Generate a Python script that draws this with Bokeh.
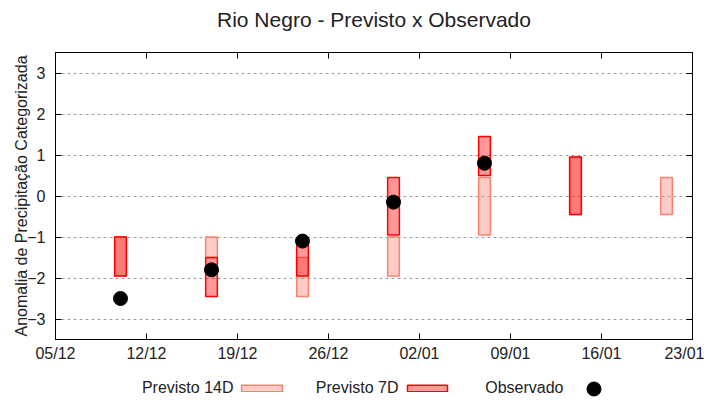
import numpy as np
import pandas as pd
from bokeh.plotting import figure
from bokeh.layouts import column
from bokeh.models import (Legend, LegendItem, FixedTicker, DatetimeTickFormatter,
                          LinearAxis, Range1d, ColumnDataSource, Label)
from bokeh.embed import file_html
from bokeh.resources import INLINE

# ---- data ----
dates = ["2023-12-10", "2023-12-17", "2023-12-24", "2023-12-31",
         "2024-01-07", "2024-01-14", "2024-01-21"]
prev14_top = [-1.0, -1.0, -1.5, -1.0, 0.45, 0.95, 0.45]
prev14_bottom = [-1.95, -1.5, -2.45, -1.95, -0.95, -0.45, -0.45]
prev7_top = [-1.0, -1.5, -1.2, 0.45, 1.45, 0.95, np.nan]
prev7_bottom = [-1.95, -2.45, -1.95, -0.95, 0.5, -0.45, np.nan]
observed = [-2.5, -1.8, -1.1, -0.15, 0.8, np.nan, np.nan]

x_tick_dates = ["2023-12-05", "2023-12-12", "2023-12-19", "2023-12-26",
                "2024-01-02", "2024-01-09", "2024-01-16", "2024-01-23"]
y_ticks = [-3, -2, -1, 0, 1, 2, 3]
y_limits = (-3.5, 3.5)
legend_labels = ["Previsto 14D", "Previsto 7D", "Observado"]
title_text = "Rio Negro - Previsto x Observado"

FONT = "Liberation Sans"
TXT = "#222222"

dt = pd.to_datetime(dates)
half = pd.Timedelta(hours=0.45 * 24)
src = ColumnDataSource(dict(
    x=dt, left=dt - half, right=dt + half,
    t14=prev14_top, b14=prev14_bottom,
    t7=prev7_top, b7=prev7_bottom, obs=observed,
))

xt = pd.to_datetime(x_tick_dates)
x_ticks_ms = [(t - pd.Timestamp("1970-01-01")) / pd.Timedelta(milliseconds=1) for t in xt]

W = 704
BL, BR = 55, 12          # left / right borders (pixels)
FX0, FX1 = BL, W - BR    # frame span in pixels

# ---- title strip ----
TH = 36
tf = figure(width=W, height=TH, x_range=Range1d(FX0, FX1), y_range=Range1d(0, TH),
            output_backend="svg", toolbar_location=None,
            x_axis_location=None, y_axis_location=None,
            min_border_left=BL, min_border_right=BR, min_border_top=0,
            min_border_bottom=0, outline_line_color=None)
tf.grid.visible = False
tf.add_layout(Label(x=(FX0 + FX1) / 2, y=17, text=title_text, text_align="center",
                    text_baseline="middle", text_font=FONT, text_font_size="21px",
                    text_color=TXT))

# ---- main chart ----
p = figure(width=W, height=328, x_axis_type="datetime",
           x_range=Range1d(xt[0], xt[-1]), y_range=Range1d(*y_limits),
           output_backend="svg", toolbar_location=None,
           min_border_left=BL, min_border_right=BR,
           min_border_top=16, min_border_bottom=25)

p.outline_line_color = "black"
p.xgrid.visible = False
p.ygrid.ticker = FixedTicker(ticks=y_ticks)
p.ygrid.grid_line_color = "#a0a0a0"
p.ygrid.grid_line_dash = "3 3"
p.ygrid.grid_line_width = 1

fmt = DatetimeTickFormatter(days="%d/%m", months="%d/%m", years="%d/%m",
                            hours="%d/%m", minutes="%d/%m")
xa = p.xaxis[0]
xa.ticker = FixedTicker(ticks=x_ticks_ms)
xa.formatter = fmt
ya = p.yaxis[0]
ya.ticker = FixedTicker(ticks=y_ticks)
ya.axis_label = "Anomalia de Precipitação Categorizada"
ya.axis_label_text_font = FONT
ya.axis_label_text_font_size = "16px"
ya.axis_label_text_font_style = "normal"
ya.axis_label_standoff = -6
ya.axis_label_text_color = TXT

top_ax = LinearAxis(ticker=FixedTicker(ticks=x_ticks_ms),
                    major_label_overrides={t: "" for t in x_ticks_ms})
right_ax = LinearAxis(ticker=FixedTicker(ticks=y_ticks),
                      major_label_overrides={t: "" for t in y_ticks})
p.add_layout(top_ax, "above")
p.add_layout(right_ax, "right")

for ax in [xa, ya, top_ax, right_ax]:
    ax.major_tick_in = 6
    ax.major_tick_out = 0
    ax.minor_tick_line_color = None
    ax.axis_line_color = "black"
    ax.major_tick_line_color = "black"
    ax.major_label_text_font = FONT
    ax.major_label_text_font_size = "16px"
    ax.major_label_text_color = TXT
xa.major_label_standoff = 5
ya.major_label_standoff = 10
top_ax.major_label_standoff = 0
right_ax.major_label_standoff = 0

q14 = dict(fill_color="salmon", fill_alpha=0.4, line_color="salmon", line_width=1.5)
q7 = dict(fill_color="red", fill_alpha=0.4, line_color="red", line_width=1.5)
dot = dict(size=14, color="black")

p.quad(left="left", right="right", top="t14", bottom="b14", source=src, **q14)
p.quad(left="left", right="right", top="t7", bottom="b7", source=src, **q7)
p.scatter(x="x", y="obs", source=src, **dot)

# ---- legend strip below the chart (text first, then sample) ----
LH = 36
lg = figure(width=W, height=LH, x_range=Range1d(FX0, FX1), y_range=Range1d(0, LH),
            output_backend="svg", toolbar_location=None,
            x_axis_location=None, y_axis_location=None,
            min_border_left=BL, min_border_right=BR, min_border_top=0,
            min_border_bottom=0, outline_line_color=None)
lg.grid.visible = False
l14 = lg.quad(left="left", right="right", top="t14", bottom="b14", source=src, **q14)
l7 = lg.quad(left="left", right="right", top="t7", bottom="b7", source=src, **q7)
lob = lg.scatter(x="x", y="obs", source=src, **dot)

def sample(rend, loc, gw, gh):
    return Legend(items=[LegendItem(label=" ", renderers=[rend])], location=loc,
                  glyph_width=gw, glyph_height=gh, label_text_font_size="1px",
                  label_width=0, label_height=0, label_standoff=0,
                  border_line_color=None, background_fill_alpha=0,
                  margin=0, padding=0, spacing=0)

lg.add_layout(sample(l14, (236 - BL, 8), 51, 8))
lg.add_layout(sample(l7, (402 - BL, 8), 50, 8))
lg.add_layout(sample(lob, (576 - BL, -6), 35, 35))

for lab, xr in zip(legend_labels, [233, 398, 563]):
    lg.add_layout(Label(x=xr, y=13.5, text=lab, text_align="right",
                        text_baseline="middle", text_font=FONT,
                        text_font_size="16px", text_color=TXT))

layout = column(tf, p, lg, spacing=0)
open("out.html", "w").write(file_html(layout, INLINE))
